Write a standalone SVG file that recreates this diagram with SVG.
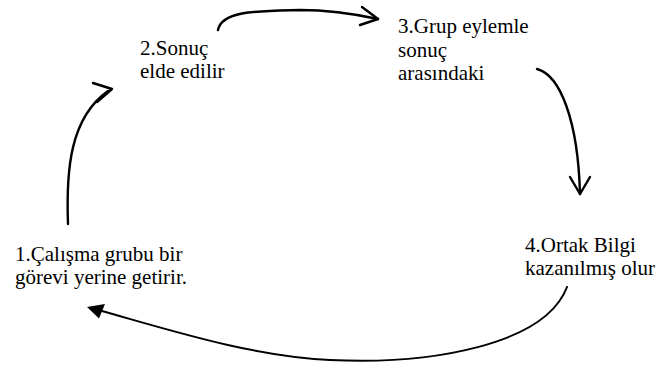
<svg xmlns="http://www.w3.org/2000/svg" width="662" height="365" viewBox="0 0 662 365">
<rect width="662" height="365" fill="#fff"/>
<g id="connectors" fill="none" stroke="#000" stroke-width="2.4" stroke-linecap="round" stroke-linejoin="round">
  <path d="M68,224 C66,170 70,118 108,91"/>
  <path d="M93,83 L112,89 L97,102"/>
  <path d="M218,30 C222,10 260,11 300,10 C330,10 355,14 378,19"/>
  <path d="M362,7 L378,19 L360,25"/>
  <path d="M537,69 C560,75 578,120 580,194"/>
  <path d="M570,177 L580,194 L590,177"/>
  <path stroke-width="2" d="M567,287 C545,345 430,365 330,360 C250,356 170,330 100,310.5"/>
  <polygon fill="#000" stroke="none" points="87,307 105,304 99,318.5"/>
</g>
<g id="node1">
  <text x="15" y="261" font-family="Liberation Serif" font-size="21">1.Çalışma grubu bir</text>
  <text x="15" y="284" font-family="Liberation Serif" font-size="21">görevi yerine getirir.</text>
</g>
<g id="node2">
  <text x="140" y="55" font-family="Liberation Serif" font-size="21">2.Sonuç</text>
  <text x="140" y="78" font-family="Liberation Serif" font-size="21">elde edilir</text>
</g>
<g id="node3">
  <text x="398" y="33" font-family="Liberation Serif" font-size="21">3.Grup eylemle</text>
  <text x="398" y="56.5" font-family="Liberation Serif" font-size="21">sonuç</text>
  <text x="398" y="80" font-family="Liberation Serif" font-size="21">arasındaki</text>
</g>
<g id="node4">
  <text x="525" y="252" font-family="Liberation Serif" font-size="21">4.Ortak Bilgi</text>
  <text x="525" y="275" font-family="Liberation Serif" font-size="21">kazanılmış olur</text>
</g>
</svg>
